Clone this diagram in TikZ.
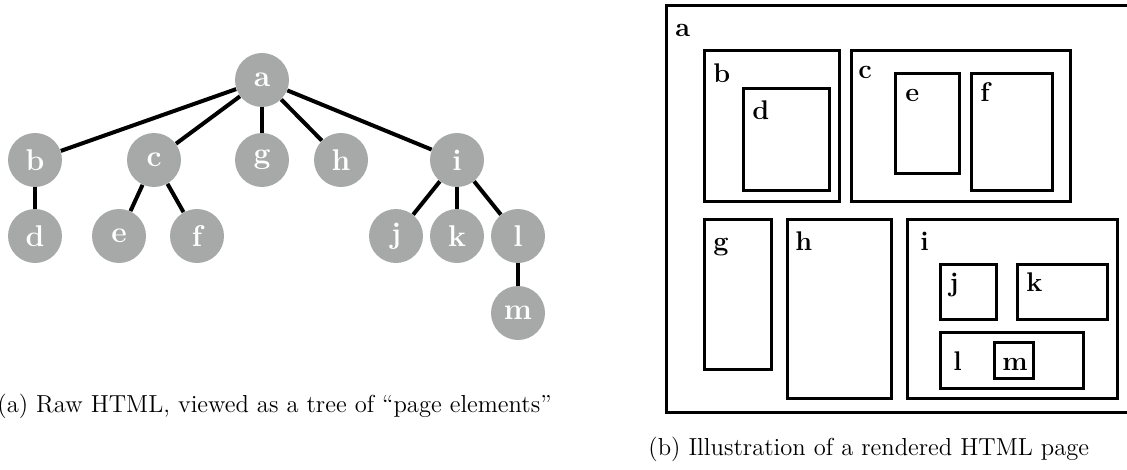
\documentclass[tikz,border=0pt]{standalone}
\definecolor{nodegray}{RGB}{166,169,167}
\newcommand\treefont{\fontsize{15}{18}\selectfont\bfseries}
\newcommand\labelfont{\fontsize{13.5}{16}\selectfont\bfseries}
\newcommand\capfont{\fontsize{12.3}{15}\selectfont}
\begin{document}
\begin{tikzpicture}[x=0.5pt,y=-0.5pt,
  elem/.style={circle, fill=nodegray, minimum size=27pt, inner sep=0pt,
    text=white, font=\treefont},
  link/.style={line width=2pt, black},
  pagebox/.style={line width=1.5pt, black},
  boxlabel/.style={anchor=base west, inner sep=0pt, font=\labelfont},
  captext/.style={anchor=base west, inner sep=0pt, font=\capfont}]
\useasboundingbox (0,0) rectangle (1127,470);
\clip (0,0) rectangle (1127,470);

% ---- tree of page elements ----
\node[elem] (a) at (262,80) {a};
\node[elem] (b) at (35,160) {b};
\node[elem] (c) at (154,160) {c};
\node[elem] (g) at (262,160) {g};
\node[elem] (h) at (341,160) {h};
\node[elem] (i) at (457,160) {i};
\node[elem] (d) at (35,236) {d};
\node[elem] (e) at (119,236) {e};
\node[elem] (f) at (197,236) {f};
\node[elem] (j) at (396,236) {j};
\node[elem] (k) at (457,236) {k};
\node[elem] (l) at (518,236) {l};
\node[elem] (m) at (518,313) {m};

\foreach \p/\q in {a/b,a/c,a/g,a/h,a/i,b/d,c/e,c/f,i/j,i/k,i/l,l/m}
  \draw[link] (\p) -- (\q);

\node[captext] (capa) at (-3,412) {(a) Raw HTML, viewed as a tree of ``page elements''};

% ---- rendered page layout ----
\draw[pagebox] (1140,6) -- (666,6) -- (666,412) -- (1140,412);
\draw[pagebox] (704,51) rectangle (839,201);
\draw[pagebox] (743,89) rectangle (829,190);
\draw[pagebox] (851,51) rectangle (1070,201);
\draw[pagebox] (895,74) rectangle (959,174);
\draw[pagebox] (971,74) rectangle (1052,190);
\draw[pagebox] (704,219) rectangle (771,369);
\draw[pagebox] (787,219) rectangle (891,398);
\draw[pagebox] (907,219) rectangle (1117,398);
\draw[pagebox] (940,264) rectangle (996,319);
\draw[pagebox] (1017,264) rectangle (1107,319);
\draw[pagebox] (940,332) rectangle (1083,388);
\draw[pagebox] (994,342) rectangle (1033,378);

\node[boxlabel] (la) at (675,37) {a};
\node[boxlabel] (lb) at (713,83) {b};
\node[boxlabel] (lc) at (858,79) {c};
\node[boxlabel] (ld) at (752,120) {d};
\node[boxlabel] (le) at (905,102) {e};
\node[boxlabel] (lf) at (980,102) {f};
\node[boxlabel] (lg) at (713,250) {g};
\node[boxlabel] (lh) at (795,250) {h};
\node[boxlabel] (li) at (920,250) {i};
\node[boxlabel] (lj) at (949,291) {j};
\node[boxlabel] (lk) at (1026,291) {k};
\node[boxlabel] (ll) at (953,370) {l};
\node[boxlabel] (lm) at (1002,370) {m};

\node[captext] (capb) at (648,455) {(b) Illustration of a rendered HTML page};
\end{tikzpicture}
\end{document}
